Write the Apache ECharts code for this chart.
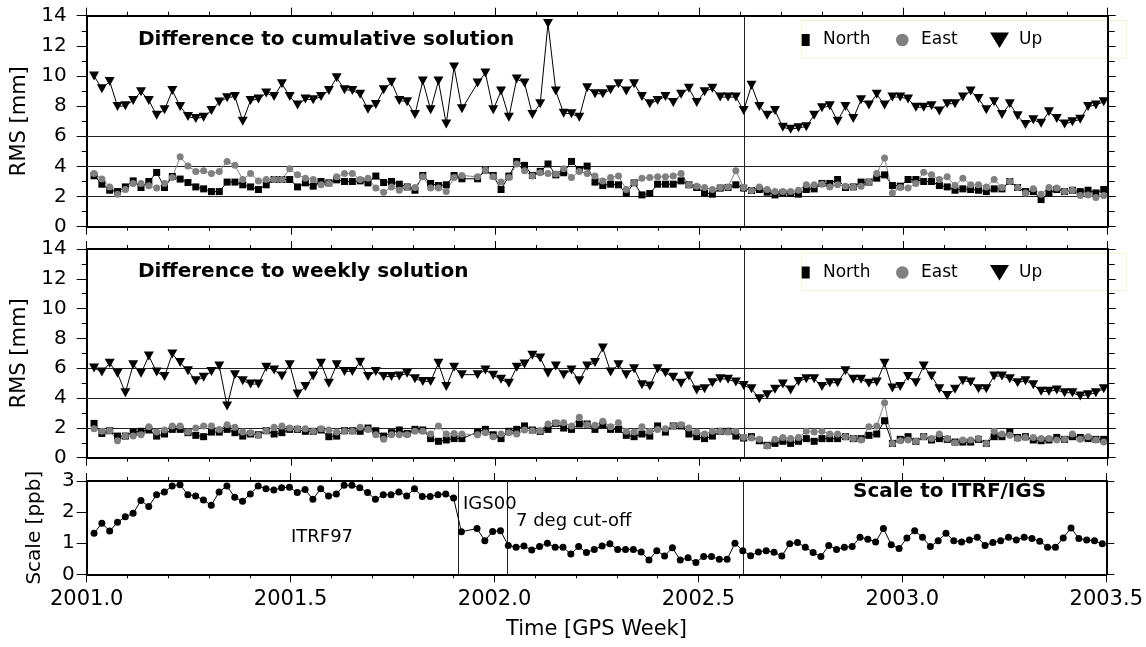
<!DOCTYPE html>
<html>
<head>
<meta charset="utf-8">
<title>RMS differences and scale</title>
<script src="https://cdn.jsdelivr.net/npm/echarts@6/dist/echarts.min.js"></script>
<style>
  html, body { margin: 0; padding: 0; background: #fff; }
  #chart { width: 1146px; height: 647px; }
</style>
</head>
<body>
<div id="chart"></div>
<script>
// one solution per GPS week, first one just after 2001.0, week 49 is missing
const firstEpoch = 2001.018
const weekStep = 7 / 365.25

// Difference to cumulative solution [mm]
const northCum = [3.38, 2.82, 2.42, 2.33, 2.64, 3.04, 2.6, 3.0, 3.6, 2.6,
  3.33, 3.16, 2.93, 2.64, 2.51, 2.33, 2.33, 2.96, 2.96, 2.78,
  2.64, 2.47, 2.78, 3.13, 3.13, 3.13, 2.64, 2.91, 2.69, 3.0,
  2.91, 3.11, 3.0, 3.0, 3.04, 2.91, 3.36, 2.93, 3.0, 2.82,
  2.64, 2.42, 3.4, 2.87, 2.73, 2.78, 3.4, 3.18, null, 3.18,
  3.76, 3.4, 2.47, 3.36, 4.33, 4.07, 3.4, 3.67, 4.16, 3.44,
  3.58, 4.33, 3.8, 4.02, 2.96, 2.73, 2.82, 2.78, 2.2, 2.91,
  2.11, 2.2, 2.82, 2.82, 2.82, 3.04, 2.78, 2.6, 2.24, 2.16,
  2.56, 2.6, 2.78, 2.56, 2.4, 2.47, 2.29, 2.11, 2.24, 2.2,
  2.16, 2.47, 2.51, 2.87, 2.87, 3.13, 2.6, 2.64, 2.96, 2.96,
  3.22, 3.44, 2.73, 2.69, 3.13, 3.13, 3.0, 3.0, 2.73, 2.64,
  2.42, 2.51, 2.47, 2.42, 2.33, 2.51, 2.51, 3.0, 2.6, 2.33,
  2.33, 1.8, 2.24, 2.47, 2.33, 2.42, 2.33, 2.42, 2.24, 2.47]
const eastCum = [3.53, 3.16, 2.64, 2.16, 2.47, 2.87, 2.87, 2.71, 2.56, 2.87,
  3.27, 4.64, 4.02, 3.67, 3.71, 3.53, 3.67, 4.33, 4.07, 3.13,
  3.53, 3.04, 3.13, 3.13, 3.13, 3.84, 3.44, 3.22, 3.13, 2.78,
  2.87, 3.31, 3.53, 3.53, 3.13, 3.22, 2.56, 2.29, 2.64, 2.42,
  2.64, 2.6, 3.31, 2.56, 2.56, 2.33, 3.27, 3.4, null, 3.31,
  3.76, 3.31, 2.96, 3.27, 4.16, 3.71, 3.36, 3.58, 3.53, 3.49,
  3.84, 3.27, 3.67, 3.53, 3.36, 3.04, 3.27, 3.36, 2.47, 2.91,
  3.22, 3.27, 3.31, 3.31, 3.36, 3.53, 2.78, 2.69, 2.6, 2.47,
  2.6, 2.64, 3.71, 2.6, 2.4, 2.64, 2.47, 2.33, 2.33, 2.33,
  2.42, 2.78, 2.78, 2.82, 2.64, 2.78, 2.69, 2.64, 2.69, 2.96,
  3.53, 4.56, 2.24, 2.6, 2.56, 2.87, 3.62, 3.44, 3.13, 3.31,
  2.73, 3.22, 2.78, 2.78, 2.64, 3.13, 2.6, 3.0, 2.6, 2.24,
  2.51, 2.16, 2.6, 2.56, 2.33, 2.42, 2.07, 2.11, 1.93, 2.07]
const upCum = [10.0, 9.16, 9.64, 7.98, 8.02, 8.38, 8.96, 8.38, 7.4, 7.76,
  9.04, 7.98, 7.31, 7.18, 7.27, 7.71, 8.27, 8.56, 8.64, 7.0,
  8.38, 8.47, 8.87, 8.64, 9.49, 8.64, 8.07, 8.47, 8.42, 8.64,
  9.04, 9.89, 9.09, 9.04, 8.78, 7.8, 8.11, 9.09, 9.58, 8.38,
  8.29, 7.44, 9.67, 7.76, 9.67, 6.82, 10.6, 7.82, null, 9.53,
  10.2, 7.76, 9.0, 7.27, 9.8, 9.53, 7.44, 8.16, 13.49, 9.0,
  7.53, 7.49, 7.27, 9.22, 8.82, 8.82, 9.09, 9.49, 9.0, 9.49,
  8.64, 8.16, 8.38, 8.64, 8.24, 8.78, 9.18, 8.24, 8.96, 9.18,
  8.6, 8.6, 8.6, 7.71, 9.38, 7.98, 7.4, 7.71, 6.6, 6.47,
  6.56, 6.64, 7.4, 7.89, 8.02, 7.0, 7.98, 7.18, 8.42, 8.07,
  8.78, 8.07, 8.6, 8.6, 8.47, 7.93, 7.93, 8.02, 7.67, 8.16,
  8.16, 8.6, 9.0, 8.51, 7.76, 8.29, 7.44, 8.16, 7.36, 6.78,
  7.09, 6.87, 7.62, 7.18, 6.82, 6.96, 7.13, 7.98, 8.07, 8.29]

// Difference to weekly solution [mm]
const northWeek = [2.3, 1.63, 1.81, 1.45, 1.45, 1.72, 1.77, 1.86, 1.45, 1.59,
  1.9, 1.9, 1.68, 1.5, 1.41, 1.72, 1.72, 1.9, 1.68, 1.45,
  1.59, 1.54, 1.81, 1.59, 1.68, 1.9, 1.9, 1.77, 1.77, 1.86,
  1.41, 1.45, 1.81, 1.81, 1.77, 1.99, 1.81, 1.45, 1.68, 1.86,
  1.63, 1.9, 1.86, 1.28, 1.1, 1.19, 1.28, 1.28, null, 1.72,
  1.9, 1.54, 1.28, 1.77, 1.9, 2.13, 1.86, 1.77, 1.9, 2.3,
  1.99, 1.9, 2.26, 2.26, 1.9, 2.21, 1.9, 1.9, 1.5, 1.41,
  1.59, 1.45, 2.13, 1.72, 2.13, 2.13, 1.59, 1.41, 1.28, 1.45,
  1.77, 1.77, 1.45, 1.32, 1.41, 1.14, 0.83, 0.96, 1.1, 0.96,
  1.1, 1.28, 1.1, 1.28, 1.28, 1.28, 1.41, 1.28, 1.28, 1.5,
  1.59, 2.48, 0.96, 1.23, 1.41, 1.1, 1.41, 1.19, 1.28, 1.23,
  1.05, 1.05, 1.05, 1.23, 0.96, 1.41, 1.41, 1.72, 1.36, 1.41,
  1.19, 1.14, 1.19, 1.36, 1.23, 1.41, 1.36, 1.28, 1.23, 1.23]
const eastWeek = [1.95, 1.77, 1.81, 1.14, 1.45, 1.45, 1.54, 2.08, 1.72, 1.86,
  2.13, 2.13, 1.72, 1.99, 2.13, 2.13, 1.9, 2.21, 2.04, 1.72,
  1.68, 1.5, 1.81, 2.04, 2.13, 1.99, 1.95, 1.95, 1.77, 1.95,
  1.86, 1.72, 1.77, 1.77, 2.04, 1.9, 1.54, 1.23, 1.54, 1.54,
  1.54, 1.77, 1.77, 1.59, 2.13, 1.59, 1.63, 1.59, null, 1.54,
  1.68, 1.41, 1.59, 1.68, 1.59, 1.86, 1.81, 1.81, 2.26, 2.35,
  2.35, 2.13, 2.71, 2.21, 2.17, 2.44, 2.08, 2.35, 1.77, 1.72,
  2.08, 1.77, 1.9, 1.95, 2.13, 2.21, 1.99, 1.72, 1.59, 1.77,
  1.77, 1.72, 1.77, 1.37, 1.32, 1.23, 0.78, 1.23, 1.36, 1.28,
  1.36, 1.77, 1.72, 1.77, 1.59, 1.59, 1.41, 1.28, 1.19, 2.08,
  2.13, 3.69, 0.96, 1.14, 1.19, 1.1, 1.41, 1.28, 1.59, 1.28,
  1.01, 1.19, 1.19, 1.28, 0.96, 1.77, 1.59, 1.5, 1.28, 1.36,
  1.36, 1.28, 1.28, 1.19, 1.23, 1.59, 1.23, 1.41, 1.19, 1.05]
const upWeek = [6.02, 5.75, 6.33, 5.66, 4.36, 6.24, 5.66, 6.82, 5.75, 5.44,
  6.96, 6.38, 5.84, 5.17, 5.39, 5.79, 6.15, 3.47, 5.57, 5.17,
  4.94, 4.94, 6.06, 5.88, 5.48, 6.24, 4.27, 4.77, 5.48, 6.33,
  4.99, 6.24, 5.79, 5.79, 6.4, 5.44, 5.79, 5.44, 5.44, 5.48,
  5.66, 5.3, 5.12, 5.12, 6.33, 4.77, 6.06, 5.57, null, 5.57,
  5.88, 5.53, 5.26, 4.99, 6.06, 6.29, 6.87, 6.69, 5.66, 6.15,
  5.57, 5.88, 5.17, 6.15, 6.38, 7.36, 5.75, 6.24, 5.57, 5.97,
  4.9, 4.81, 5.97, 5.7, 5.39, 4.99, 5.48, 4.54, 4.63, 5.03,
  5.3, 5.26, 5.08, 4.85, 4.63, 3.96, 4.23, 4.59, 4.94, 4.54,
  5.12, 5.3, 5.3, 4.77, 5.03, 5.03, 5.84, 5.26, 5.26, 4.99,
  5.08, 6.33, 4.68, 4.77, 5.44, 5.03, 6.15, 5.48, 4.63, 4.18,
  4.59, 5.17, 5.08, 4.63, 4.63, 5.48, 5.48, 5.3, 5.03, 5.17,
  4.9, 4.45, 4.45, 4.54, 4.36, 4.36, 4.14, 4.23, 4.36, 4.63]

// Scale to ITRF/IGS [ppb]
const scale = [1.32, 1.64, 1.39, 1.67, 1.85, 1.96, 2.37, 2.18, 2.56, 2.65,
  2.84, 2.88, 2.56, 2.52, 2.39, 2.22, 2.65, 2.84, 2.48, 2.35,
  2.58, 2.84, 2.75, 2.71, 2.78, 2.8, 2.63, 2.73, 2.41, 2.75,
  2.52, 2.58, 2.86, 2.86, 2.78, 2.63, 2.41, 2.56, 2.56, 2.65,
  2.52, 2.75, 2.5, 2.5, 2.56, 2.58, 2.45, 1.37, null, 1.47,
  1.08, 1.38, 1.4, 0.93, 0.87, 0.91, 0.78, 0.89, 1.0, 0.87,
  0.87, 0.65, 0.89, 0.7, 0.8, 0.91, 0.98, 0.8, 0.8, 0.8,
  0.72, 0.46, 0.76, 0.59, 0.85, 0.46, 0.53, 0.38, 0.57, 0.57,
  0.48, 0.48, 1.0, 0.76, 0.6, 0.72, 0.76, 0.71, 0.59, 0.98,
  1.02, 0.87, 0.7, 0.57, 0.93, 0.8, 0.87, 0.89, 1.19, 1.13,
  1.04, 1.47, 0.95, 0.83, 1.17, 1.4, 1.19, 0.89, 1.08, 1.32,
  1.08, 1.04, 1.1, 1.19, 0.93, 1.02, 1.08, 1.19, 1.1, 1.19,
  1.15, 1.06, 0.87, 0.87, 1.17, 1.49, 1.15, 1.1, 1.08, 0.98]

const rmsLines = [2, 4, 6]
const frameChange = 2002.61
const scaleEvents = [2001.91, 2002.03]

const FONT = 'DejaVu Sans'

const epochs = scale.map((_, i) => firstEpoch + i * weekStep)
const pts = (vals) => vals.map((v, i) => [epochs[i], v]).filter((p) => p[1] != null)

const chart = echarts.init(document.getElementById('chart'))

const grids = [
  { left: 86.7, top: 15.7, width: 1021, height: 211 },
  { left: 86.7, top: 249, width: 1021, height: 208.7 },
  { left: 86.7, top: 481, width: 1021, height: 93.3 },
]

const black = { color: '#000' }

function xAxes(i) {
  const base = {
    gridIndex: i,
    type: 'value',
    min: 2001,
    max: 2003.5,
    interval: 0.5,
    axisLine: { show: true, onZero: false, lineStyle: { color: '#000', width: 2 } },
    axisTick: { show: true, inside: false, length: 8, lineStyle: black },
    minorTick: { show: true, splitNumber: 5, length: 4, lineStyle: black },
    splitLine: { show: false },
    axisLabel: { show: false },
  }
  const bottom = Object.assign({}, base, { position: 'bottom' })
  if (i === 2) {
    bottom.axisLabel = {
      show: true,
      margin: 15,
      color: '#000',
      fontSize: 21,
      fontFamily: FONT,
      formatter: (v) => v.toFixed(1),
    }
    bottom.name = 'Time [GPS Week]'
    bottom.nameLocation = 'middle'
    bottom.nameGap = 45
    bottom.nameTextStyle = { color: '#000', fontSize: 21, fontFamily: FONT }
  }
  return [bottom, Object.assign({}, base, { position: 'top' })]
}

function yAxes(i) {
  const small = i === 2
  const base = {
    gridIndex: i,
    type: 'value',
    min: 0,
    max: small ? 3 : 14,
    interval: small ? 1 : 2,
    axisLine: { show: true, onZero: false, lineStyle: { color: '#000', width: 2 } },
    axisTick: { show: true, inside: false, length: 10, lineStyle: black },
    minorTick: { show: !small, splitNumber: 2, length: 5, lineStyle: black },
    splitLine: { show: false },
    axisLabel: { show: false },
  }
  const left = Object.assign({}, base, {
    position: 'left',
    name: small ? 'Scale [ppb]' : 'RMS [mm]',
    nameLocation: 'middle',
    nameGap: small ? 42 : 52,
    nameTextStyle: { color: '#000', fontSize: small ? 20 : 21, fontFamily: FONT },
    axisLabel: { show: true, margin: small ? 12 : 20, color: '#000', fontSize: 20, fontFamily: FONT },
  })
  const right = Object.assign({}, base, {
    position: 'right',
    axisTick: { show: true, inside: false, length: 8, lineStyle: black },
    minorTick: { show: !small, splitNumber: 2, length: 7, lineStyle: black },
  })
  return [left, right]
}

function guideLines(xs, ys) {
  return {
    silent: true,
    z: 1,
    symbol: ['none', 'none'],
    label: { show: false },
    animation: false,
    lineStyle: { color: '#222', width: 1, type: 'solid' },
    data: xs.map((x) => ({ xAxis: x })).concat(ys.map((y) => ({ yAxis: y }))),
  }
}

function rmsSeries(i, north, east, up) {
  const common = { type: 'line', xAxisIndex: 2 * i, yAxisIndex: 2 * i, showAllSymbol: true, animation: false }
  return [
    Object.assign({}, common, {
      name: 'North',
      data: pts(north),
      symbol: 'rect',
      symbolSize: 7,
      itemStyle: { color: '#000' },
      lineStyle: { color: '#000', width: 1 },
      markLine: guideLines([frameChange], rmsLines),
    }),
    Object.assign({}, common, {
      name: 'East',
      data: pts(east),
      symbol: 'circle',
      symbolSize: 7,
      itemStyle: { color: '#808080' },
      lineStyle: { color: '#808080', width: 1 },
    }),
    Object.assign({}, common, {
      name: 'Up',
      data: pts(up),
      symbol: 'triangle',
      symbolRotate: 180,
      symbolSize: [10, 9],
      itemStyle: { color: '#000' },
      lineStyle: { color: '#000', width: 1 },
    }),
  ]
}

function legendBox(cy) {
  return [
    { type: 'rect', shape: { x: 801.5, y: cy - 19.5, width: 325, height: 37.5 }, style: { fill: 'none', stroke: '#f2f2cf', lineWidth: 1 } },
    { type: 'rect', shape: { x: 801.7, y: cy - 6, width: 8, height: 12 }, style: { fill: '#000' } },
    { type: 'text', x: 823, y: cy, style: { text: 'North', fontSize: 17, fontFamily: FONT, fill: '#000', verticalAlign: 'middle' } },
    { type: 'circle', shape: { cx: 902.3, cy: cy, r: 6.3 }, style: { fill: '#808080' } },
    { type: 'text', x: 921, y: cy, style: { text: 'East', fontSize: 17, fontFamily: FONT, fill: '#000', verticalAlign: 'middle' } },
    { type: 'polygon', shape: { points: [[990, cy - 7.5], [1009, cy - 7.5], [999.5, cy + 8]] }, style: { fill: '#000' } },
    { type: 'text', x: 1019, y: cy, style: { text: 'Up', fontSize: 17, fontFamily: FONT, fill: '#000', verticalAlign: 'middle' } },
  ]
}

function label(text, x, y, size, bold) {
  return {
    type: 'text',
    x: x,
    y: y,
    z: 10,
    style: { text: text, fontSize: size, fontWeight: bold ? 'bold' : 'normal', fontFamily: FONT, fill: '#000', verticalAlign: 'middle' },
  }
}

chart.setOption({
  animation: false,
  backgroundColor: '#fff',
  grid: grids,
  xAxis: [].concat(xAxes(0), xAxes(1), xAxes(2)),
  yAxis: [].concat(yAxes(0), yAxes(1), yAxes(2)),
  series: [].concat(
    rmsSeries(0, northCum, eastCum, upCum),
    rmsSeries(1, northWeek, eastWeek, upWeek),
    [{
      name: 'Scale',
      type: 'line',
      xAxisIndex: 4,
      yAxisIndex: 4,
      data: pts(scale),
      symbol: 'circle',
      symbolSize: 7,
      showAllSymbol: true,
      itemStyle: { color: '#000' },
      lineStyle: { color: '#000', width: 1 },
      markLine: guideLines([frameChange].concat(scaleEvents), []),
    }]
  ),
  graphic: [].concat(
    legendBox(40),
    legendBox(272.5),
    [
      label('Difference to cumulative solution', 138, 39.5, 20, true),
      label('Difference to weekly solution', 138, 272, 20, true),
      label('Scale to ITRF/IGS', 853, 492, 20, true),
      label('ITRF97', 291, 537, 18, false),
      label('IGS00', 463, 504, 18, false),
      label('7 deg cut-off', 516, 521, 18, false),
    ]
  ),
})
</script>
</body>
</html>
